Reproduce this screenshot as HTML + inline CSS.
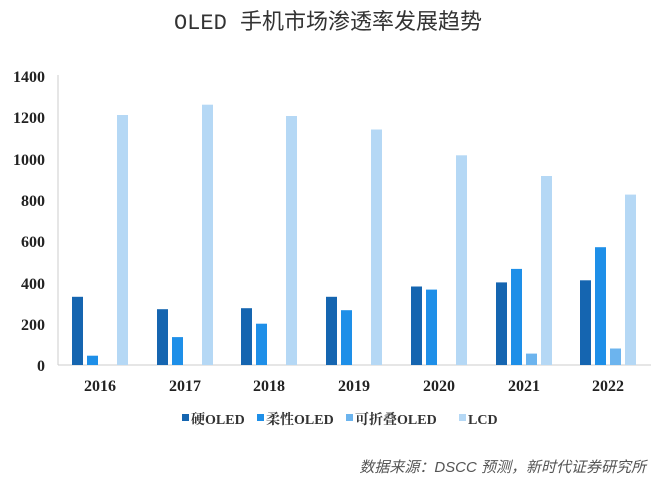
<!DOCTYPE html><html><head><meta charset="utf-8"><style>body{margin:0;background:#fff}</style></head><body>
<svg width="657" height="482" xmlns="http://www.w3.org/2000/svg" font-family="'Liberation Serif','Noto Serif CJK SC',serif">
<rect width="657" height="482" fill="#fff"/>
<text x="328" y="29" text-anchor="middle" font-family="'Liberation Mono','Noto Sans CJK SC',sans-serif" font-size="22" fill="#333">OLED 手机市场渗透率发展趋势</text>
<line x1="58" y1="75" x2="58" y2="365" stroke="#ccc"/>
<line x1="58" y1="365" x2="651" y2="365" stroke="#ccc"/>
<g font-size="16" font-weight="bold" fill="#222" text-anchor="end">
<text x="45" y="371">0</text><text x="45" y="330">200</text><text x="45" y="289">400</text><text x="45" y="247">600</text><text x="45" y="206">800</text><text x="45" y="165">1000</text><text x="45" y="123">1200</text><text x="45" y="82">1400</text>
</g>
<g font-size="16" font-weight="bold" fill="#222" text-anchor="middle">
<text x="100" y="391">2016</text><text x="185" y="391">2017</text><text x="269" y="391">2018</text><text x="354" y="391">2019</text><text x="439" y="391">2020</text><text x="524" y="391">2021</text><text x="608" y="391">2022</text>
</g>
<g font-size="14" font-weight="bold" fill="#333" font-family="'Liberation Serif','Noto Serif CJK SC',serif">
<rect x="182" y="414" width="7" height="7" fill="#1565b0"/><text x="191" y="424">硬OLED</text>
<rect x="257" y="414" width="7" height="7" fill="#1e8fe8"/><text x="266" y="424">柔性OLED</text>
<rect x="346" y="414" width="7" height="7" fill="#6cb4ee"/><text x="355" y="424">可折叠OLED</text>
<rect x="459" y="414" width="7" height="7" fill="#b5d8f5"/><text x="468" y="424">LCD</text>
</g>
<text x="646" y="472" text-anchor="end" font-family="'Liberation Sans','Noto Sans CJK SC',sans-serif" font-style="italic" font-size="15" fill="#555">数据来源：DSCC 预测，新时代证券研究所</text>
<g>
<rect x="72" y="296.8" width="11" height="68.2" fill="#1565b0"/><rect x="87" y="355.7" width="11" height="9.3" fill="#1e8fe8"/><rect x="117" y="115" width="11" height="250" fill="#b5d8f5"/>
<rect x="157" y="309.2" width="11" height="55.8" fill="#1565b0"/><rect x="172" y="337.1" width="11" height="27.9" fill="#1e8fe8"/><rect x="202" y="104.7" width="11" height="260.3" fill="#b5d8f5"/>
<rect x="241" y="308.2" width="11" height="56.8" fill="#1565b0"/><rect x="256" y="323.7" width="11" height="41.3" fill="#1e8fe8"/><rect x="286" y="116" width="11" height="249" fill="#b5d8f5"/>
<rect x="326" y="296.8" width="11" height="68.2" fill="#1565b0"/><rect x="341" y="310.2" width="11" height="54.8" fill="#1e8fe8"/><rect x="371" y="129.5" width="11" height="235.5" fill="#b5d8f5"/>
<rect x="411" y="286.5" width="11" height="78.5" fill="#1565b0"/><rect x="426" y="289.6" width="11" height="75.4" fill="#1e8fe8"/><rect x="456" y="155.3" width="11" height="209.7" fill="#b5d8f5"/>
<rect x="496" y="282.4" width="11" height="82.6" fill="#1565b0"/><rect x="511" y="268.9" width="11" height="96.1" fill="#1e8fe8"/><rect x="526" y="353.6" width="11" height="11.4" fill="#6cb4ee"/><rect x="541" y="176" width="11" height="189" fill="#b5d8f5"/>
<rect x="580" y="280.3" width="11" height="84.7" fill="#1565b0"/><rect x="595" y="247.2" width="11" height="117.8" fill="#1e8fe8"/><rect x="610" y="348.5" width="11" height="16.5" fill="#6cb4ee"/><rect x="625" y="194.6" width="11" height="170.4" fill="#b5d8f5"/>
</g>
</svg>
</body></html>
